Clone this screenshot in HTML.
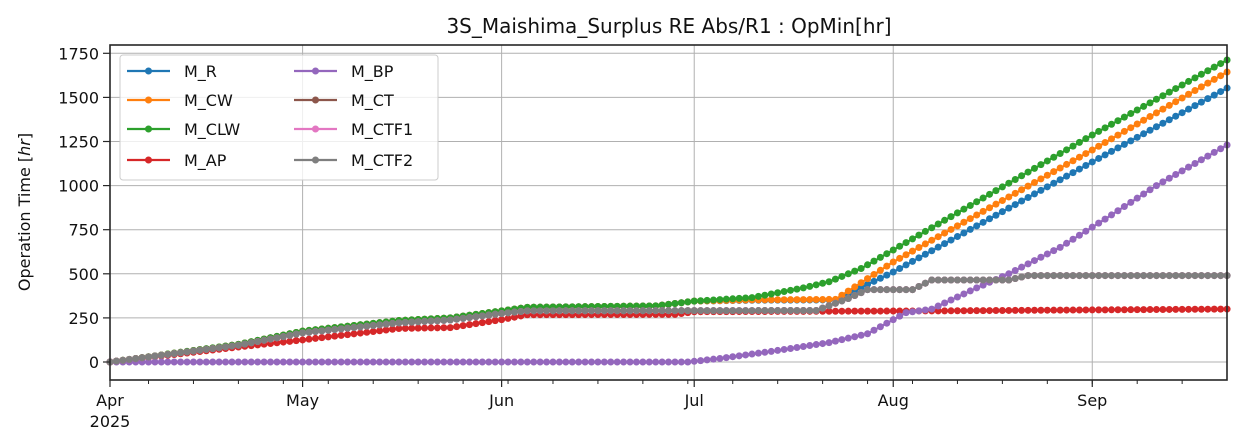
<!DOCTYPE html>
<html><head><meta charset="utf-8"><style>
body{margin:0;background:#fff;}
svg{display:block;font-family:"DejaVu Sans","Liberation Sans",sans-serif;}
</style></head><body>
<svg id="s" width="1240" height="447" xmlns="http://www.w3.org/2000/svg">
<rect width="1240" height="447" fill="#fff"/>
<g id="grid"></g>
<g id="data"></g>
<rect x="110" y="45" width="1117" height="335" fill="none" stroke="#262626" stroke-width="1.6"/>
<g id="ticks"></g>
<text x="669" y="33" font-size="20" text-anchor="middle" fill="#111">3S_Maishima_Surplus RE Abs/R1 : OpMin[hr]</text>
<text transform="translate(30,212) rotate(-90)" font-size="16" text-anchor="middle" fill="#111">Operation Time [<tspan font-style="italic">hr</tspan>]</text>
<g id="legend"></g>
</svg>
<script>
const NS="http://www.w3.org/2000/svg";
function el(p,t,a,txt){const e=document.createElementNS(NS,t);for(const k in a)e.setAttribute(k,a[k]);if(txt!==undefined)e.textContent=txt;p.appendChild(e);return e;}
const X=d=>110+d*6.42, Y=v=>362-v*44.1/250;
const ND=174;
const grid=document.getElementById('grid'),ticks=document.getElementById('ticks');
const months=[[0,'Apr'],[30,'May'],[61,'Jun'],[91,'Jul'],[122,'Aug'],[153,'Sep']];
months.forEach(([d,l])=>{const x=X(d);if(d>0)el(grid,'line',{x1:x,x2:x,y1:45,y2:380,stroke:'#b0b0b0','stroke-width':1});
el(ticks,'line',{x1:x,x2:x,y1:380,y2:387,stroke:'#262626','stroke-width':1.2});
el(ticks,'text',{x:x,y:406,'font-size':16,'text-anchor':'middle',fill:'#111'},l);});
el(ticks,'text',{x:X(0),y:427,'font-size':16,'text-anchor':'middle',fill:'#111'},'2025');
for(let d=6;d<ND;d+=7){el(ticks,'line',{x1:X(d),x2:X(d),y1:380,y2:384,stroke:'#262626','stroke-width':1});}
for(let v=0;v<=1750;v+=250){const y=Y(v);el(grid,'line',{x1:110,x2:1227,y1:y,y2:y,stroke:'#b0b0b0','stroke-width':1});
el(ticks,'line',{x1:103,x2:110,y1:y,y2:y,stroke:'#262626','stroke-width':1.2});
el(ticks,'text',{x:99,y:y+6,'font-size':16,'text-anchor':'end',fill:'#111'},v);}
function interp(k,d){for(let i=0;i<k.length-1;i++){if(d>=k[i][0]&&d<=k[i+1][0]){const t=(d-k[i][0])/(k[i+1][0]-k[i][0]);return k[i][1]+t*(k[i+1][1]-k[i][1]);}}return k[k.length-1][1];}
const early=[[0,0],[20,100],[30,175],[45,235],[53,250],[61,290],[65,310],[85,318],[91,345]];
const gray=[[0,0],[20,95],[30,165],[45,222],[53,238],[61,275],[65,290],[110,292],[115,360],[118,410],[125,410],[128,465],[140,465],[143,490],[174,490]];
const S=[
['#1f77b4',[...early,[100,350],[113,352],[122,510],[153,1134],[174,1553]]],
['#ff7f0e',[...early,[100,352],[113,355],[122,567],[153,1202],[174,1644]]],
['#2ca02c',[...early,[100,365],[108,420],[112,455],[117,530],[122,635],[153,1287],[174,1712]]],
['#d62728',[[0,0],[20,85],[30,125],[45,190],[53,195],[61,240],[65,268],[88,270],[91,285],[130,290],[174,300]]],
['#9467bd',[[0,0],[90,0],[95,20],[103,60],[112,110],[118,160],[124,280],[128,300],[135,420],[140,500],[148,650],[155,810],[163,1000],[174,1230]]],
['#8c564b',gray],['#e377c2',gray],['#7f7f7f',gray]
];
const data=document.getElementById('data');
S.forEach(([c,k])=>{let pts=[];for(let d=0;d<=ND;d++){pts.push(X(d).toFixed(1)+','+Y(interp(k,d)).toFixed(1));}
el(data,'polyline',{points:pts.join(' '),fill:'none',stroke:c,'stroke-width':2.2});
for(let d=0;d<=ND;d++)el(data,'circle',{cx:X(d),cy:Y(interp(k,d)),r:3.5,fill:c});});
const lg=document.getElementById('legend');
el(lg,'rect',{x:120,y:55,width:318,height:125,rx:3,fill:'#fff','fill-opacity':0.8,stroke:'#ccc'});
const names=['M_R','M_CW','M_CLW','M_AP','M_BP','M_CT','M_CTF1','M_CTF2'];
const rows=[71,100,129,160];
names.forEach((n,i)=>{const col=i>>2,r=i%4;const x0=col?294:127,y=rows[r];
el(lg,'line',{x1:x0,x2:x0+43,y1:y,y2:y,stroke:S[i][0],'stroke-width':2.2});
el(lg,'circle',{cx:x0+21.5,cy:y,r:3.5,fill:S[i][0]});
el(lg,'text',{x:x0+57,y:y+6,'font-size':16,fill:'#111'},n);});
</script>
</body></html>
